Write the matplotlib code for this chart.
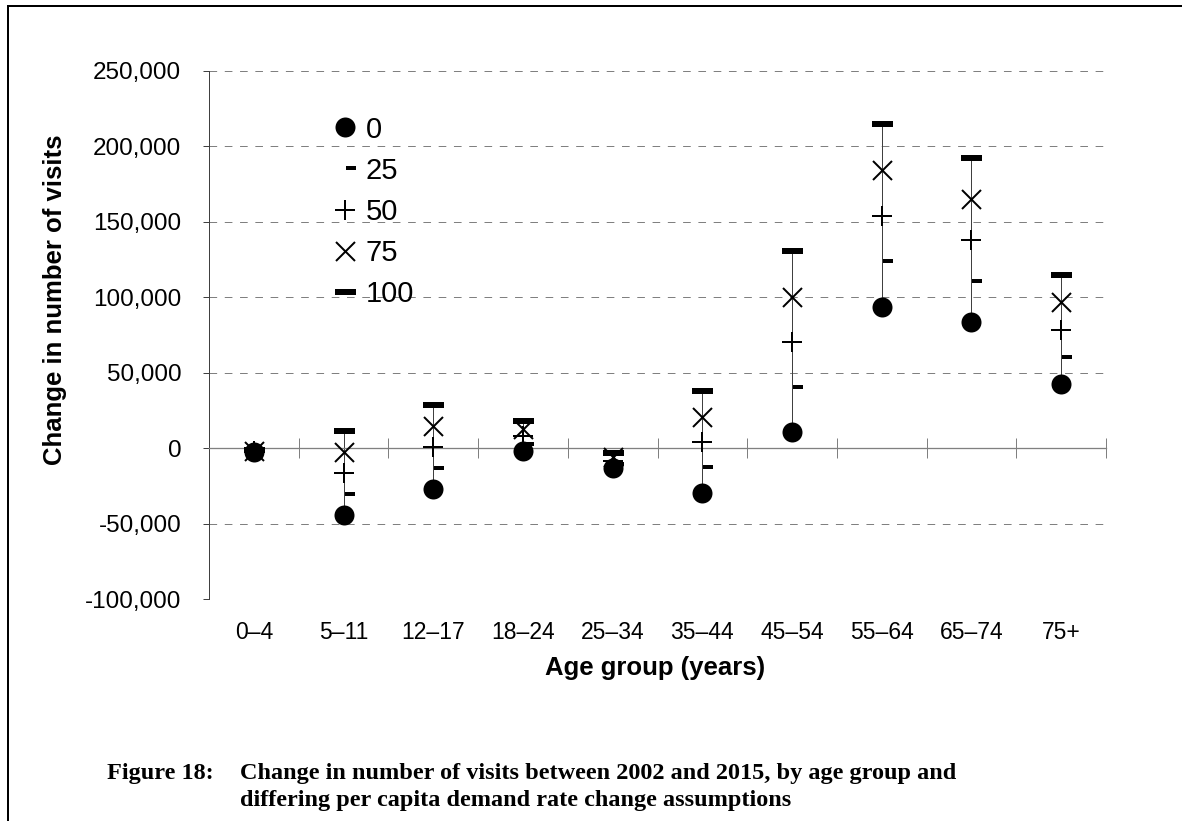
import numpy as np
import matplotlib
matplotlib.use("Agg")
import matplotlib.pyplot as plt
from matplotlib.path import Path
from matplotlib.lines import Line2D
from matplotlib.ticker import FuncFormatter

plt.rcParams['font.family'] = ['Liberation Sans', 'DejaVu Sans']
plt.rcParams['lines.scale_dashes'] = False

# data
age_groups = ['0\u20134', '5\u201311', '12\u201317', '18\u201324', '25\u201334',
              '35\u201344', '45\u201354', '55\u201364', '65\u201374', '75+']
assumptions = ['0', '25', '50', '75', '100']
rate_0 = [-2500, -44400, -27200, -2000, -13300, -29800, 10400, 93700, 83800, 42200]
rate_25 = [-2200, -30500, -13300, 3000, -10800, -12600, 40200, 124000, 111000, 60100]
rate_50 = [-2000, -16600, 700, 8000, -8300, 4200, 70100, 153800, 137900, 78200]
rate_75 = [-1800, -2700, 14600, 13000, -5800, 20800, 100300, 184400, 165100, 96600]
rate_100 = [-1500, 11300, 28500, 18300, -3300, 38200, 130800, 214900, 192300, 114700]

series = [rate_0, rate_25, rate_50, rate_75, rate_100]

# marker shapes (Excel style dashes)
short_dash = Path([(0.1, -0.2), (1.1, -0.2), (1.1, 0.2), (0.1, 0.2), (0.1, -0.2)],
                  [Path.MOVETO, Path.LINETO, Path.LINETO, Path.LINETO, Path.CLOSEPOLY])
long_dash = Path([(-1, -0.24), (1, -0.24), (1, 0.24), (-1, 0.24), (-1, -0.24)],
                 [Path.MOVETO, Path.LINETO, Path.LINETO, Path.LINETO, Path.CLOSEPOLY])

px = 0.72
styles = [
    dict(marker='o', ms=20 * px, mfc='black', mec='black', mew=0),
    dict(marker=short_dash, ms=22 * px, mfc='black', mec='black', mew=0),
    dict(marker='+', ms=20 * px, mec='black', mew=2 * px),
    dict(marker='x', ms=19 * px, mec='black', mew=2 * px),
    dict(marker=long_dash, ms=21 * px, mfc='black', mec='black', mew=0),
]

fig = plt.figure(figsize=(11.82, 8.21), dpi=100)
W, H = 1182, 821
ax = fig.add_axes([209 / W, 1 - 599 / H, (1106 - 209) / W, (599 - 71) / H])

x = np.arange(len(age_groups))

# high-low lines
data = np.array(series)
ax.vlines(x, data.min(axis=0), data.max(axis=0), color='#404040', lw=1 * px, zorder=2)

handles = []
for vals, lab, st in zip(series, assumptions, styles):
    ax.plot(x, vals, ls='none', zorder=3, **st)
    handles.append(Line2D([], [], ls='none', **st))

ax.set_xlim(-0.5, len(age_groups) - 0.5)
ax.set_ylim(-100000, 250000)
ax.set_yticks(np.arange(-100000, 250001, 50000))
ax.yaxis.set_major_formatter(FuncFormatter(lambda v, p: '{:,.0f}'.format(v)))
ax.tick_params(axis='y', length=4, width=1 * px, color='#404040', labelsize=17.5, pad=16)

for v in np.arange(-100000, 250001, 50000):
    if v != 0:
        ax.axhline(v, color='#808080', lw=1 * px, ls=(0, (5.5, 5.5)), zorder=1)

for s in ['top', 'right']:
    ax.spines[s].set_visible(False)
ax.spines['left'].set_color('#404040')
ax.spines['left'].set_linewidth(1 * px)
ax.spines['bottom'].set_position(('data', 0))
ax.spines['bottom'].set_color('#808080')
ax.spines['bottom'].set_linewidth(1.3 * px)
ax.set_xticks(np.arange(-0.5, len(age_groups), 1.0))
ax.tick_params(axis='x', direction='inout', length=14, width=1 * px, color='#808080',
               labelbottom=False)

sec = ax.secondary_xaxis(0.0)
sec.set_xticks(x)
sec.set_xticklabels(age_groups)
sec.tick_params(length=0, labelsize=16.5, pad=16)
sec.spines['bottom'].set_visible(False)

fig.text(655 / W, 1 - 668 / H, 'Age group (years)', ha='center', va='center',
         fontsize=18.5, fontweight='bold')
fig.text(55 / W, 1 - 300 / H, 'Change in number of visits', ha='center', va='center',
         rotation=90, fontsize=18.5, fontweight='bold')

ax.legend(handles, assumptions, loc='upper left', bbox_to_anchor=(316 / W, 1 - 101 / H),
          bbox_transform=fig.transFigure, frameon=False, fontsize=21,
          handlelength=1.0, handletextpad=0.2, labelspacing=0.45, borderpad=0)

# caption
cap = dict(ha='left', va='center', fontsize=17.5, fontweight='bold', family='Liberation Serif')
fig.text(107 / W, 1 - 773 / H, 'Figure 18:', **cap)
fig.text(240 / W, 1 - 773 / H,
         'Change in number of visits between 2002 and 2015, by age group and', **cap)
fig.text(240 / W, 1 - 800 / H, 'differing per capita demand rate change assumptions', **cap)

# outer frame (left and top)
fig.add_artist(Line2D([8 / W, 8 / W], [0, 1 - 6 / H], color='black', lw=2 * px,
                      transform=fig.transFigure))
fig.add_artist(Line2D([8 / W, 1], [1 - 6 / H, 1 - 6 / H], color='black', lw=2 * px,
                      transform=fig.transFigure))

fig.savefig('out.png', dpi=100)
